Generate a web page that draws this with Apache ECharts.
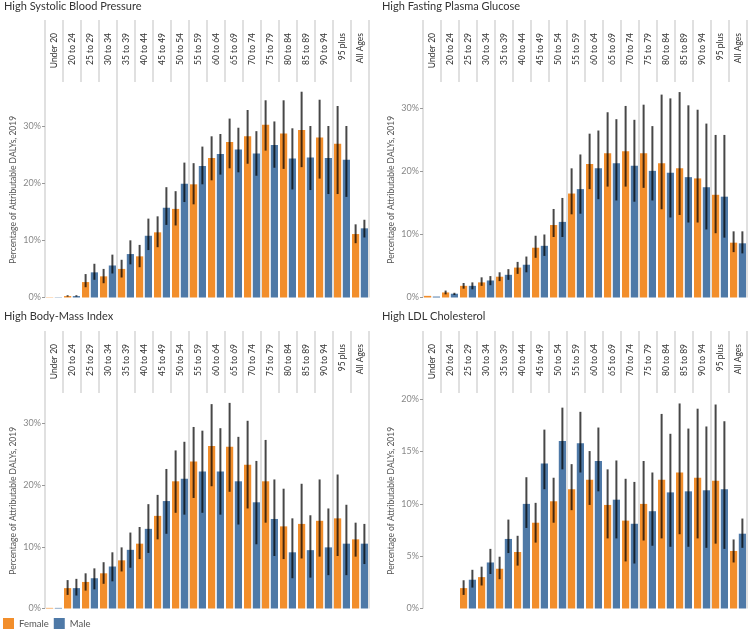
<!DOCTYPE html>
<html>
<head>
<meta charset="utf-8">
<script src="https://cdn.jsdelivr.net/npm/echarts@6/dist/echarts.min.js"></script>
<style>
  html, body { margin: 0; padding: 0; background: #fff; }
  #chart { width: 750px; height: 639px; }
</style>
</head>
<body>
<div id="chart"></div>
<script>
  var ages = ['Under 20', '20 to 24', '25 to 29', '30 to 34', '35 to 39', '40 to 44', '45 to 49', '50 to 54', '55 to 59',
    '60 to 64', '65 to 69', '70 to 74', '75 to 79', '80 to 84', '85 to 89', '90 to 94', '95 plus', 'All Ages'];

  // [value, lower, upper] in %
  var sbpFemale = [[0.05, null, null], [0.25, 0.15, 0.4], [2.7, 1.8, 4.1], [3.7, 2.5, 5.0], [5.0, 3.5, 6.6], [7.2, 5.3, 9.2],
    [11.4, 8.8, 14.2], [15.5, 12.6, 18.6], [19.8, 16.3, 23.5], [24.4, 20.5, 28.2], [27.2, 22.6, 31.3], [28.2, 23.4, 32.8],
    [30.2, 25.7, 34.5], [28.7, 22.5, 34.5], [29.3, 22.8, 36.0], [28.0, 20.8, 34.6], [26.9, 18.1, 33.5], [11.1, 9.5, 12.8]];
  var sbpMale = [[0.05, null, null], [0.25, 0.15, 0.4], [4.4, 3.1, 5.9], [5.6, 4.2, 7.5], [7.6, 5.8, 10.0], [10.8, 8.3, 13.8],
    [15.7, 12.7, 19.3], [19.9, 16.7, 23.6], [23.0, 19.8, 26.4], [25.1, 21.5, 28.6], [25.9, 21.9, 29.7], [25.2, 21.3, 29.1],
    [26.7, 22.7, 30.8], [24.3, 18.9, 29.6], [24.5, 18.8, 30.0], [24.4, 18.1, 30.0], [24.1, 17.6, 30.0], [12.1, 10.5, 13.6]];

  var fpgFemale = [[0.26, null, null], [0.8, 0.5, 1.1], [1.85, 1.4, 2.3], [2.4, 1.85, 3.2], [3.3, 2.6, 4.0], [4.75, 3.75, 5.65],
    [7.9, 6.3, 9.8], [11.5, 9.6, 14.05], [16.5, 13.2, 20.5], [21.2, 17.2, 26.0], [22.9, 17.6, 29.4], [23.2, 17.6, 30.4],
    [22.9, 17.4, 30.6], [21.3, 14.0, 32.2], [20.5, 13.1, 32.6], [18.9, 11.9, 29.8], [16.3, 10.2, 25.8], [8.7, 7.2, 10.5]];
  var fpgMale = [[0.15, null, null], [0.6, 0.4, 0.75], [1.85, 1.3, 2.4], [2.7, 1.95, 3.4], [3.6, 2.8, 4.5], [5.2, 4.0, 6.5],
    [8.2, 6.6, 10.0], [12.0, 9.6, 15.8], [17.2, 13.3, 22.7], [20.5, 15.6, 26.5], [21.3, 15.4, 28.3], [20.9, 15.2, 28.2],
    [20.1, 15.4, 27.2], [19.8, 12.7, 31.6], [19.1, 11.9, 30.5], [17.5, 10.8, 27.6], [16.0, 9.5, 25.8], [8.6, 7.0, 10.5]];

  var bmiFemale = [[0.1, null, null], [3.3, 2.2, 4.6], [4.3, 2.9, 5.7], [5.7, 4.0, 7.5], [7.8, 6.0, 9.9], [10.5, 8.0, 13.2],
    [15.0, 11.2, 18.4], [20.6, 15.5, 25.6], [23.8, 17.9, 29.4], [26.3, 19.8, 33.1], [26.2, 18.9, 33.3], [23.3, 16.2, 30.4],
    [20.6, 13.9, 27.3], [13.3, 8.0, 19.4], [13.7, 8.1, 20.2], [14.2, 8.4, 20.9], [14.6, 8.5, 21.7], [11.2, 8.4, 13.9]];
  var bmiMale = [[0.1, null, null], [3.3, 2.1, 4.8], [4.9, 3.1, 6.5], [6.8, 4.4, 9.1], [9.5, 6.6, 12.3], [12.9, 9.0, 16.9],
    [17.4, 12.1, 22.6], [21.0, 15.2, 27.0], [22.2, 15.5, 28.8], [22.2, 15.2, 29.2], [20.6, 13.6, 27.8], [17.2, 10.4, 23.9],
    [14.5, 8.5, 20.9], [9.1, 4.9, 14.6], [9.45, 5.0, 15.1], [9.9, 5.4, 16.2], [10.5, 5.4, 16.8], [10.5, 7.2, 13.7]];

  var ldlFemale = [[0, null, null], [0, null, null], [1.95, 1.3, 2.7], [3.0, 2.2, 4.0], [3.8, 2.8, 4.95], [5.4, 4.1, 6.95],
    [8.2, 6.3, 10.1], [10.25, 8.2, 12.5], [11.4, 9.4, 13.8], [12.3, 9.9, 15.05], [9.9, 6.7, 13.3], [8.4, 4.5, 12.4],
    [10.0, 6.5, 14.1], [12.3, 6.7, 18.6], [13.0, 7.1, 19.6], [12.5, 6.7, 19.1], [12.2, 6.2, 19.5], [5.5, 4.4, 6.6]];
  var ldlMale = [[0, null, null], [0, null, null], [2.75, 2.0, 3.7], [4.4, 3.3, 5.7], [6.65, 5.3, 8.5], [10.0, 7.7, 12.55],
    [13.85, 11.4, 17.1], [16.0, 13.3, 19.2], [15.8, 13.0, 18.8], [14.1, 11.2, 17.3], [10.4, 6.7, 14.15], [8.1, 4.3, 12.1],
    [9.3, 6.0, 13.0], [11.1, 5.9, 16.7], [11.2, 5.9, 17.2], [11.3, 5.8, 17.4], [11.4, 5.7, 17.9], [7.15, 5.8, 8.6]];

  // y tick labels per panel
  var ticksTen = [0, 10, 20, 30];
  var ticksFive = [0, 5, 10, 15, 20];

  var FEMALE = '#F28E2B';
  var MALE = '#4E79A7';
  var GRIDLINE = { show: true, lineStyle: { color: '#e0e0e0', width: 2 } };
  var BAR_W = 0.4, BAR_GAP = 0.22;
  var OFFSET = (BAR_W + BAR_W * BAR_GAP) / 2; // centre of each bar from category centre, in bands

  // 18 columns of 18px so every separator lands on whole pixels
  var panels = [
    { title: 'High Systolic Blood Pressure', f: sbpFemale, m: sbpMale, ticks: ticksTen, left: 45, top: 20, max: 37.7, tx: 4, ty: 1 },
    { title: 'High Fasting Plasma Glucose', f: fpgFemale, m: fpgMale, ticks: ticksTen, left: 423, top: 20, max: 34.2, tx: 382, ty: 1 },
    { title: 'High Body-Mass Index', f: bmiFemale, m: bmiMale, ticks: ticksTen, left: 45, top: 331, max: 34.9, tx: 4, ty: 311 },
    { title: 'High LDL Cholesterol', f: ldlFemale, m: ldlMale, ticks: ticksFive, left: 423, top: 331, max: 20.6, tx: 382, ty: 311 }
  ];

  // error bar drawn at the centre of the female (-1) or male (+1) bar
  const errorBar = sign => (params, api) => {
    let lo = api.coord([api.value(0), api.value(1)]);
    let hi = api.coord([api.value(0), api.value(2)]);
    let dx = sign * api.size([1, 0])[0] * OFFSET;
    return {
      type: 'line',
      shape: { x1: lo[0] + dx, y1: lo[1], x2: hi[0] + dx, y2: hi[1] },
      style: { stroke: 'rgba(0,0,0,0.72)', lineWidth: 2 }
    };
  };

  const errData = rows => rows
    .map((d, i) => [i, d[1], d[2]])
    .filter(d => d[1] !== null);

  let title = [], grid = [], xAxis = [], yAxis = [], series = [];

  panels.forEach((p, i) => {
    let h = 2 * i, g = 2 * i + 1;
    title.push({
      text: p.title, left: p.tx, top: p.ty, padding: 0,
      textStyle: { fontSize: 11, fontWeight: 'normal', color: '#333' }
    });
    // header strip with age labels, then the plot below it
    grid.push({ left: p.left, width: 324, top: p.top, height: 62 });
    grid.push({ left: p.left, width: 324, top: p.top + 62, height: 215.5 });

    xAxis.push({
      gridIndex: h, type: 'category', data: ages, position: 'top',
      axisLine: { show: false }, axisTick: { show: false },
      axisLabel: { inside: true, rotate: 90, margin: 13, fontSize: 8.5, color: '#333' },
      splitLine: GRIDLINE
    });
    yAxis.push({ gridIndex: h, type: 'value', show: false });

    xAxis.push({
      gridIndex: g, type: 'category', data: ages,
      axisLine: { show: false }, axisTick: { show: false }, axisLabel: { show: false },
      splitLine: GRIDLINE
    });
    yAxis.push({
      gridIndex: g, type: 'value', min: 0, max: p.max,
      name: 'Percentage of Attributable DALYs, 2019', nameLocation: 'middle', nameGap: 27,
      nameTextStyle: { fontSize: 8.5, color: '#555' },
      axisLine: { show: false },
      axisTick: { show: true, length: 3, customValues: p.ticks, lineStyle: { color: '#999' } },
      axisLabel: { formatter: '{value}%', customValues: p.ticks, fontSize: 9, color: '#888', margin: 4 },
      splitLine: { show: false }
    });

    series.push({
      name: 'Female', type: 'bar', xAxisIndex: g, yAxisIndex: g,
      barWidth: BAR_W * 100 + '%', barGap: BAR_GAP * 100 + '%',
      itemStyle: { color: FEMALE }, data: p.f.map(d => d[0])
    });
    series.push({
      name: 'Male', type: 'bar', xAxisIndex: g, yAxisIndex: g,
      barWidth: BAR_W * 100 + '%', barGap: BAR_GAP * 100 + '%',
      itemStyle: { color: MALE }, data: p.m.map(d => d[0])
    });
    series.push({
      name: 'Female range', type: 'custom', xAxisIndex: g, yAxisIndex: g, z: 5,
      renderItem: errorBar(-1), encode: { x: 0, y: [1, 2] }, data: errData(p.f)
    });
    series.push({
      name: 'Male range', type: 'custom', xAxisIndex: g, yAxisIndex: g, z: 5,
      renderItem: errorBar(1), encode: { x: 0, y: [1, 2] }, data: errData(p.m)
    });
  });

  let myChart = echarts.init(document.getElementById('chart'));
  let option = {
    animation: false,
    textStyle: { fontFamily: 'Lato' },
    title: title,
    legend: {
      data: ['Female', 'Male'], left: 3, top: 618, padding: 0, icon: 'rect',
      itemWidth: 11, itemHeight: 11, itemGap: 5,
      textStyle: { fontSize: 9.5, color: '#555' }
    },
    grid: grid,
    xAxis: xAxis,
    yAxis: yAxis,
    series: series
  };
  option && myChart.setOption(option);
</script>
</body>
</html>
